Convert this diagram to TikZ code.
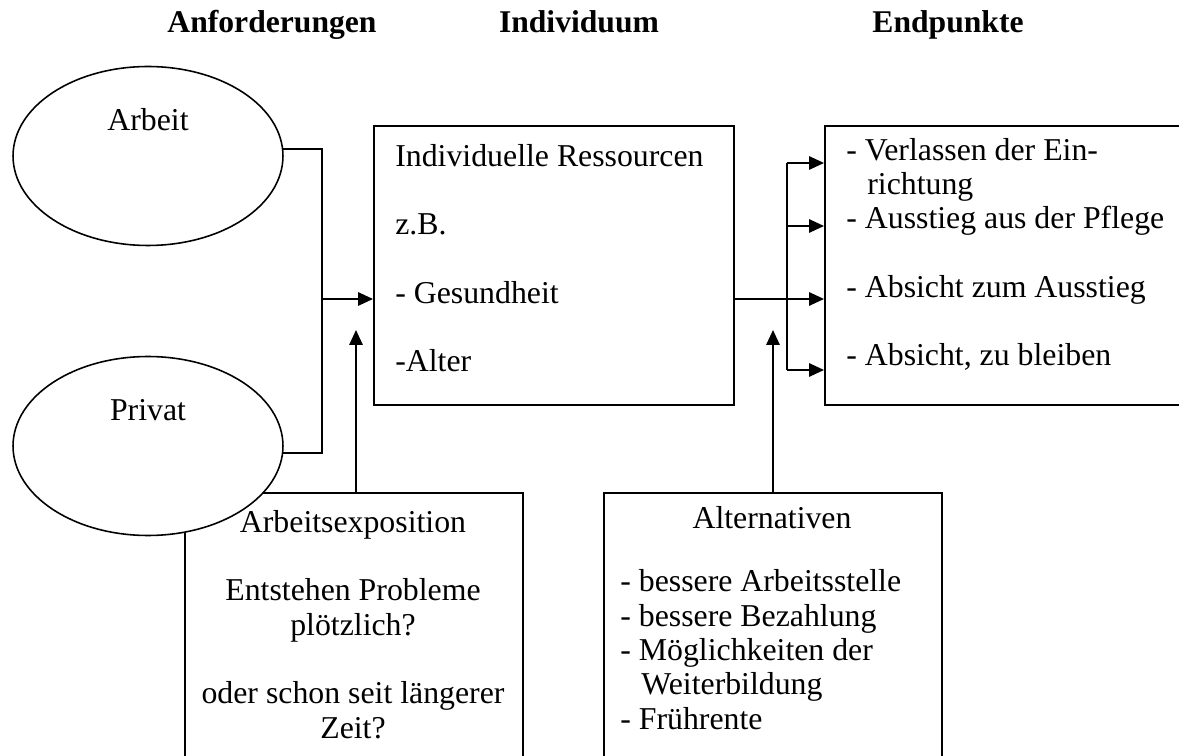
\documentclass[tikz,border=0pt]{standalone}
\usepackage{fontspec}
\setmainfont{Liberation Serif}
\usetikzlibrary{arrows.meta, shapes.geometric, positioning, calc}
\tikzset{
  box/.style={
    draw,
    line width=0.9pt,
    fill=white,
    inner sep=0pt,
    anchor=north west
  },
  blob/.style={
    ellipse,
    draw,
    line width=0.9pt,
    fill=white,
    minimum width=5.4cm,
    minimum height=3.58cm,
    inner sep=0pt
  },
  head/.style={font=\fontsize{18pt}{19.5pt}\selectfont\bfseries, anchor=base, inner sep=0pt},
  txt/.style={anchor=base west, align=left, inner sep=0pt},
  mid/.style={anchor=base, align=center, inner sep=0pt},
  link/.style={line width=0.9pt},
  arr/.style={
    link,
    -{Triangle[length=0.3cm, width=0.27cm]}
  }
}

\begin{document}
\begin{tikzpicture}[x=0.02cm, y=-0.02cm, font=\fontsize{18.1pt}{19.5pt}\selectfont]
  \useasboundingbox (0,0) rectangle (1179,756);
  \clip (0,0) rectangle (1179,756);

  \node[head] (hAnf) at (272,33) {Anforderungen};
  \node[head] (hInd) at (579,33) {Individuum};
  \node[head] (hEnd) at (948,33) {Endpunkte};

  \node[box, minimum width=7.2cm, minimum height=5.58cm] (ind) at (373,125) {};
  \node[box, minimum width=7.4cm, minimum height=5.58cm] (end) at (824,125) {};
  \node[box, minimum width=6.76cm, minimum height=5.8cm] (expo) at (184,492) {};
  \node[box, minimum width=6.76cm, minimum height=5.8cm] (alt) at (603,492) {};

  \node[blob] (arbeit) at (148,156) {};
  \node[blob] (privat) at (148,446) {};
  \node[mid] (arbeitText) at (148,131) {Arbeit};
  \node[mid] (privatText) at (148,420) {Privat};

  \coordinate (join) at (322,299);
  \coordinate (fork) at (787,299);
  \coordinate (expoTip) at (356,330);
  \coordinate (altTip) at (773,330);

  \draw[link] (arbeit.3) -| (join) |- (privat.-3);
  \draw[arr] (join) -- (ind.west |- join);
  \draw[arr] (expoTip |- expo.north) -- (expoTip);

  \draw[link] (ind.east |- fork) -- (fork);
  \draw[link] (fork |- 0,163) -- (fork |- 0,370);
  \foreach \yy in {163,226,299,370}
    \draw[arr] (fork |- 0,\yy) -- (end.west |- 0,\yy);
  \draw[arr] (altTip |- alt.north) -- (altTip);

  \node[txt] (indText) at (395,372) {Individuelle Ressourcen\\[\baselineskip]
    z.B.\\[\baselineskip]
    - Gesundheit\\[\baselineskip]
    -Alter};
  \node[txt] (endText) at (846,366) {- Verlassen der Ein-\\
    \hspace*{0.42cm}richtung\\
    - Ausstieg aus der Pflege\\[\baselineskip]
    - Absicht zum Ausstieg\\[\baselineskip]
    - Absicht, zu bleiben};
  \node[mid] (expoText) at (353,738) {Arbeitsexposition\\[\baselineskip]
    Entstehen Probleme\\
    plötzlich?\\[\baselineskip]
    oder schon seit längerer\\
    Zeit?};
  \node[mid] (altHead) at (772,528) {Alternativen};
  \node[txt] (altText) at (620,729) {- bessere Arbeitsstelle\\
    - bessere Bezahlung\\
    - Möglichkeiten der\\
    \hspace*{0.42cm}Weiterbildung\\
    - Frührente};
\end{tikzpicture}
\end{document}
